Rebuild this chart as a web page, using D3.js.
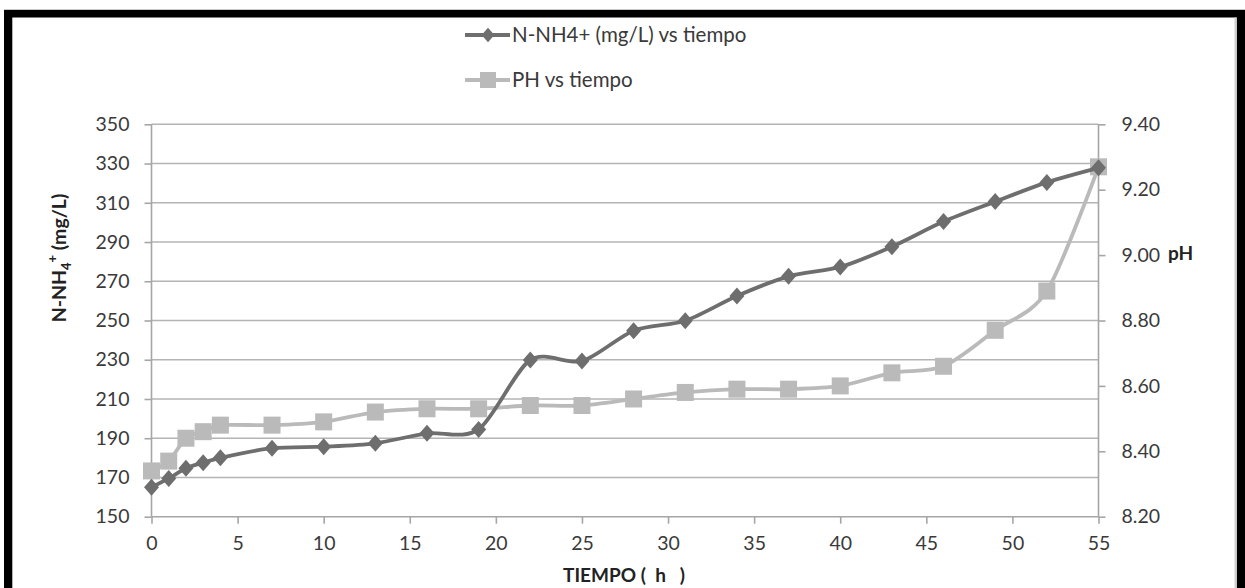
<!DOCTYPE html>
<html><head><meta charset="utf-8">
<script src="https://cdn.jsdelivr.net/npm/d3@7"></script>
<style>body{margin:0;background:#fff;} svg{display:block;font-family:Lato, 'Open Sans', sans-serif;}</style>
</head><body>
<svg id="c" width="1245" height="588"></svg>
<script>
const tiempo = [0,1,2,3,4,7,10,13,16,19,22,25,28,31,34,37,40,43,46,49,52,55];
const nh4 = [165,169.5,174.7,177.5,180,184.9,185.7,187.4,192.5,194.5,229.9,229.3,244.8,249.9,262.5,272.5,277.3,287.6,300.4,310.6,320.4,327.8];
const ph = [8.34,8.37,8.44,8.46,8.48,8.48,8.49,8.52,8.53,8.53,8.54,8.54,8.56,8.58,8.59,8.59,8.60,8.64,8.66,8.77,8.89,9.27];
const xTicks = [0,5,10,15,20,25,30,35,40,45,50,55];
const yLeftTicks = [150,170,190,210,230,250,270,290,310,330,350];
const yRightTicks = [8.20,8.40,8.60,8.80,9.00,9.20,9.40];
const seriesNames = ["N-NH4+ (mg/L) vs tiempo","PH vs tiempo"];

const svg = d3.select("#c");
const W=1245,H=588;
const L=151.5,R=1098.5,T=124.3,B=516.7;
const darkC="#6e6e6e", lightC="#bababa", gridC="#b4b4b4", axisC="#a6a6a6", txtC="#3a3a3a";

// frame
svg.append("rect").attr("x",0).attr("y",0).attr("width",W).attr("height",H).attr("fill","#fff");
svg.append("line").attr("x1",4).attr("x2",1245).attr("y1",9.5).attr("y2",9.5).attr("stroke","#c8c8c8").attr("stroke-width",1);
svg.append("rect").attr("x",4).attr("y",10).attr("width",1241).attr("height",7.5).attr("fill","#000");
svg.append("rect").attr("x",4).attr("y",10).attr("width",8.3).attr("height",H-10).attr("fill","#000");
svg.append("rect").attr("x",1236.7).attr("y",10).attr("width",8.3).attr("height",H-10).attr("fill","#000");
svg.append("rect").attr("x",1234.5).attr("y",17.5).attr("width",2.2).attr("height",H-17.5).attr("fill","#cfcfcf");

const x = d3.scaleLinear().domain([0,55]).range([L,R]);
const yL = d3.scaleLinear().domain([150,350]).range([B,T]);
const yR = d3.scaleLinear().domain([8.2,9.4]).range([B,T]);

// gridlines
svg.append("g").selectAll("line").data(yLeftTicks.slice(1)).join("line")
  .attr("x1",L).attr("x2",R).attr("y1",d=>yL(d)).attr("y2",d=>yL(d))
  .attr("stroke",gridC).attr("stroke-width",1.6);

// axes
const ax = svg.append("g").attr("transform",`translate(0,${B})`)
  .call(d3.axisBottom(x).tickValues(xTicks).tickSize(7).tickPadding(12));
const ayL = svg.append("g").attr("transform",`translate(${L},0)`)
  .call(d3.axisLeft(yL).tickValues(yLeftTicks).tickSize(7).tickPadding(15));
const ayR = svg.append("g").attr("transform",`translate(${R},0)`)
  .call(d3.axisRight(yR).tickValues(yRightTicks).tickSize(7).tickPadding(16).tickFormat(d3.format(".2f")));
[ax,ayL,ayR].forEach(g=>{
  g.select(".domain").attr("stroke",axisC).attr("stroke-width",1.6);
  g.selectAll(".tick line").attr("stroke",axisC).attr("stroke-width",1.6);
  g.selectAll(".tick text").attr("fill",txtC).attr("font-size",19.5).attr("font-family","Lato, sans-serif");
});
ayL.select(".domain").attr("d",`M0,${T}V${B}`);
ayR.select(".domain").attr("d",`M0,${T}V${B}`);
ax.select(".domain").attr("d",`M${L},0H${R}`);

const curve = d3.curveCardinal.tension(0.15);
// pH series (light) drawn first
const lineR = d3.line().x((d,i)=>x(tiempo[i])).y(d=>yR(d)).curve(curve);
svg.append("path").datum(ph).attr("d",lineR).attr("fill","none").attr("stroke",lightC).attr("stroke-width",3.8);
svg.append("g").selectAll("rect").data(ph).join("rect")
  .attr("x",(d,i)=>x(tiempo[i])-8.5).attr("y",d=>yR(d)-8.5).attr("width",17).attr("height",17).attr("fill",lightC);

const lineL = d3.line().x((d,i)=>x(tiempo[i])).y(d=>yL(d)).curve(curve);
svg.append("path").datum(nh4).attr("d",lineL).attr("fill","none").attr("stroke",darkC).attr("stroke-width",3.8);
const diamond = "M0,-8.5L7.5,0L0,8.5L-7.5,0Z";
svg.append("g").selectAll("path").data(nh4).join("path")
  .attr("transform",(d,i)=>`translate(${x(tiempo[i])},${yL(d)})`).attr("d",diamond).attr("fill",darkC);

// legend
const lg = svg.append("g");
lg.append("line").attr("x1",465).attr("x2",510).attr("y1",35).attr("y2",35).attr("stroke",darkC).attr("stroke-width",3.8);
lg.append("path").attr("transform","translate(488,35) scale(0.85)").attr("d",diamond).attr("fill",darkC);
lg.append("text").attr("x",512).attr("y",42).text(seriesNames[0]).attr("font-size",20.5).attr("fill",txtC);
lg.append("line").attr("x1",465).attr("x2",510).attr("y1",80).attr("y2",80).attr("stroke",lightC).attr("stroke-width",3.8);
lg.append("rect").attr("x",480).attr("y",72).attr("width",16).attr("height",16).attr("fill",lightC);
lg.append("text").attr("x",512).attr("y",87).text(seriesNames[1]).attr("font-size",20.5).attr("fill",txtC);

// axis titles
svg.append("text").attr("x",624).attr("y",582).attr("text-anchor","middle").attr("font-weight","bold")
  .attr("font-size",19).attr("fill","#222").style("white-space","pre").text("TIEMPO (  h   )");
svg.append("text").attr("x",1168).attr("y",260).attr("font-weight","bold")
  .attr("font-size",19).attr("fill","#222").text("pH");
const yt = svg.append("text").attr("transform","translate(66,258) rotate(-90)").attr("text-anchor","middle")
  .attr("font-weight","bold").attr("font-size",19.5).attr("fill","#222");
yt.append("tspan").text("N-NH");
yt.append("tspan").attr("font-size",13).attr("dy",5).text("4");
yt.append("tspan").attr("font-size",13).attr("dy",-14).text("+");
yt.append("tspan").attr("dy",9).text(" (mg/L)");
</script>
</body></html>
